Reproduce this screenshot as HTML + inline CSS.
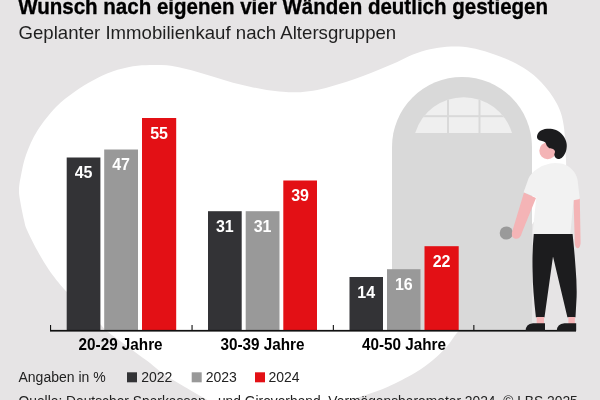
<!DOCTYPE html>
<html lang="de"><head><meta charset="utf-8"><title>Wunsch nach eigenen vier Wänden deutlich gestiegen</title>
<style>
html,body{margin:0;padding:0;background:#e6e4e5;}
body{width:600px;height:400px;overflow:hidden;}
svg{display:block;font-family:"Liberation Sans",sans-serif;}
.t1{font-weight:bold;font-size:22.7px;fill:#000;stroke:#000;stroke-width:0.35px;}
.t2{font-size:19.2px;fill:#1f1f1f;}
.bl{font-weight:bold;font-size:16px;fill:#fff;text-anchor:middle;}
.al{font-weight:bold;font-size:16px;fill:#000;text-anchor:middle;}
.lg{font-size:14px;fill:#222;}
.src{font-size:13.8px;fill:#222;}
</style></head><body>
<svg width="600" height="400" viewBox="0 0 600 400">
<rect width="600" height="400" fill="#e6e4e5"/>
<path d="M19.0,190.0C19.1,186.2 19.4,183.3 20.6,177.5C21.8,171.7 23.2,162.8 26.0,155.0C28.8,147.2 32.5,138.6 37.5,130.6C42.5,122.6 49.8,113.5 56.0,107.0C62.2,100.5 68.7,96.0 75.0,91.5C81.3,87.0 87.5,83.3 93.8,80.0C100.0,76.7 106.0,73.8 112.5,71.5C119.0,69.2 126.8,67.4 133.0,66.3C139.2,65.2 144.4,65.2 150.0,65.0C155.6,64.8 161.2,64.8 166.7,65.3C172.2,65.8 177.4,67.1 183.0,68.3C188.6,69.5 194.4,71.1 200.0,72.7C205.6,74.3 211.2,76.0 216.7,77.7C222.2,79.4 227.4,81.2 233.0,82.7C238.6,84.2 244.4,85.5 250.0,86.7C255.6,87.9 261.2,89.2 266.7,90.0C272.2,90.8 278.0,91.3 283.0,91.7C288.0,92.1 291.7,92.5 296.7,92.3C301.7,92.1 307.4,91.6 313.0,90.7C318.6,89.8 324.4,88.2 330.0,86.7C335.6,85.2 341.2,83.5 346.7,81.7C352.2,79.9 357.4,78.1 363.0,76.0C368.6,73.9 374.4,71.6 380.0,69.3C385.6,67.0 391.2,64.8 396.7,62.3C402.2,59.8 407.4,56.7 413.0,54.5C418.6,52.3 424.4,50.6 430.0,49.3C435.6,48.0 441.2,47.2 446.7,46.8C452.2,46.4 457.4,46.3 463.0,46.8C468.6,47.3 473.8,48.4 480.0,50.0C486.2,51.6 494.0,54.2 500.0,56.5C506.0,58.8 510.8,60.8 516.0,63.5C521.2,66.2 526.8,69.9 531.0,73.0C535.2,76.1 537.9,78.8 541.0,82.0C544.1,85.2 546.9,88.5 549.5,92.0C552.1,95.5 554.5,99.2 556.5,103.0C558.5,106.8 560.2,110.5 561.5,115.0C562.8,119.5 563.7,124.5 564.3,130.0C564.9,135.5 565.1,141.0 565.3,148.0C565.5,155.0 567.0,164.2 565.5,172.0C564.0,179.8 560.2,187.8 556.0,195.0C551.8,202.2 544.5,208.3 540.0,215.0C535.5,221.7 531.2,220.8 529.0,235.0C526.8,249.2 528.5,284.7 527.0,300.0C525.5,315.3 529.5,322.2 520.0,327.0C510.5,331.8 480.2,328.3 470.0,329.0C459.8,329.7 462.9,328.1 459.0,331.0C455.1,333.9 451.0,341.9 446.7,346.7C442.4,351.5 438.3,355.6 433.0,360.0C427.7,364.4 422.2,368.6 414.7,373.0C407.2,377.4 396.0,383.1 388.0,386.7C380.0,390.3 373.0,392.5 366.7,394.7C360.4,396.9 354.4,398.4 350.0,400.0C345.6,401.6 362.5,403.3 340.0,404.0C317.5,404.7 237.1,404.7 215.0,404.0C192.9,403.3 211.7,402.3 207.5,400.0C203.3,397.7 197.1,394.2 190.0,390.0C182.9,385.8 171.7,379.5 165.0,375.0C158.3,370.5 154.3,366.3 150.0,363.0C145.7,359.7 143.5,358.3 139.0,355.0C134.5,351.7 128.2,346.8 123.0,343.0C117.8,339.2 111.8,335.2 108.0,332.0C104.2,328.8 103.8,328.0 100.0,324.0C96.2,320.0 89.2,312.2 85.0,308.0C80.8,303.8 78.5,301.7 75.0,298.5C71.5,295.3 68.3,293.8 64.0,289.0C59.7,284.2 53.5,276.5 49.0,270.0C44.5,263.5 40.7,256.7 37.0,250.0C33.3,243.3 29.2,235.0 27.0,230.0C24.8,225.0 25.2,225.0 24.0,220.0C22.8,215.0 20.8,205.0 20.0,200.0C19.2,195.0 18.9,193.8 19.0,190.0Z" fill="#fff"/>
<path d="M392,330.9 V147 A70,70 0 0 1 532,147 V330.9Z" fill="#d9d9d9"/>
<clipPath id="wc"><path d="M415.2,133 A50.6,50.6 0 0 1 512,133Z"/></clipPath>
<g clip-path="url(#wc)"><rect x="410" y="90" width="110" height="45" fill="#efefef"/><rect x="447" y="90" width="2" height="50" fill="#d9d9d9"/><rect x="478.5" y="90" width="2" height="50" fill="#d9d9d9"/><rect x="400" y="115.2" width="130" height="2" fill="#d9d9d9"/></g>
<rect x="66.7" y="157.5" width="33.7" height="172.9" fill="#333336"/>
<text x="83.6" y="178.0" class="bl">45</text>
<rect x="104.2" y="149.5" width="33.8" height="180.9" fill="#999999"/>
<text x="121.1" y="170.0" class="bl">47</text>
<rect x="142" y="118" width="34.2" height="212.4" fill="#e31015"/>
<text x="159.1" y="138.5" class="bl">55</text>
<rect x="208" y="211.2" width="33.7" height="119.2" fill="#333336"/>
<text x="224.8" y="231.7" class="bl">31</text>
<rect x="245.7" y="211.2" width="33.8" height="119.2" fill="#999999"/>
<text x="262.6" y="231.7" class="bl">31</text>
<rect x="283.3" y="180.5" width="33.7" height="149.9" fill="#e31015"/>
<text x="300.1" y="201.0" class="bl">39</text>
<rect x="349.5" y="277" width="33.5" height="53.4" fill="#333336"/>
<text x="366.2" y="297.5" class="bl">14</text>
<rect x="387" y="269.2" width="33.5" height="61.2" fill="#999999"/>
<text x="403.8" y="289.7" class="bl">16</text>
<rect x="424.5" y="246.2" width="34.2" height="84.2" fill="#e31015"/>
<text x="441.6" y="266.7" class="bl">22</text>
<rect x="50" y="329.9" width="526" height="1.7" fill="#111"/>
<rect x="50.0" y="325" width="1.1" height="6" fill="#111"/>
<rect x="191.5" y="325" width="1.1" height="6" fill="#111"/>
<rect x="332.8" y="325" width="1.1" height="6" fill="#111"/>
<rect x="473.3" y="325" width="1.1" height="6" fill="#111"/>
<circle cx="506.3" cy="233" r="6.6" fill="#9a9a9a"/>
<path d="M524,192.5 L536,198 L522,232.5 Q520.5,239.5 515,238.8 Q510,237 512.8,229.5 Z" fill="#f4b4b6"/>
<path d="M573.5,198 L579.8,198 L580.6,243 Q580,248.5 577.5,248.3 Q575,247.5 574.8,243 Z" fill="#f4b4b6"/>
<path d="M550,163.5 Q543,165 537.5,168.8 Q531,173 528.5,178.5 L523.6,192.3 L536.3,197.6 L532.5,234 L570.3,234 L573.6,200.2 L579.8,199 L577.6,180 Q576.2,173.5 572.5,170 Q568,165.2 562.5,163.8 Q556,162.5 550,163.5Z" fill="#f2f2f2"/>
<circle cx="547.7" cy="150.8" r="8.4" fill="#f4b4b6"/>
<path d="M537.0,136.5C537.2,135.1 537.8,132.8 539.5,131.5C541.2,130.2 544.2,129.1 547.0,128.8C549.8,128.6 553.3,128.9 556.0,130.0C558.7,131.1 561.2,133.3 563.0,135.5C564.8,137.7 566.0,140.6 566.5,143.0C567.0,145.4 566.8,147.8 566.3,150.0C565.8,152.2 564.6,154.5 563.5,156.0C562.4,157.5 560.8,158.7 559.5,159.0C558.2,159.3 556.9,158.7 556.0,158.0C555.1,157.3 554.5,156.1 554.3,155.0C554.1,153.9 555.2,152.5 555.0,151.5C554.8,150.5 553.9,149.5 553.0,149.0C552.1,148.5 550.5,148.8 549.5,148.3C548.5,147.8 547.7,147.0 547.0,146.0C546.3,145.0 546.1,143.3 545.3,142.5C544.5,141.7 543.1,141.4 542.0,141.0C540.9,140.6 539.3,140.6 538.5,139.8C537.7,139.1 536.8,137.9 537.0,136.5Z" fill="#1c1c1e"/>
<path d="M533.8,234 L572.6,234 Q574.5,252 575.6,268 Q577,285 576.6,297 L575.5,317.3 L567.4,317.3 L553,256.5 L544.5,317.3 L535.9,317.3 Q532.8,290 532.6,272 Q532,252 533.8,234Z" fill="#1c1c1e"/>
<rect x="536.7" y="317" width="7.3" height="7" fill="#f4b4b6"/><rect x="568.4" y="317" width="6.4" height="7" fill="#f4b4b6"/>
<path d="M525.6,330.8 Q525.6,324.2 533,323.3 L545,323.3 L545,330.8Z" fill="#1c1c1e"/>
<path d="M556.8,330.8 Q556.8,324.2 564.5,323.3 L576.2,323.3 L576.2,330.8Z" fill="#1c1c1e"/>
<text transform="translate(18.2,14.3) scale(0.905,1)" class="t1">Wunsch nach eigenen vier Wänden deutlich gestiegen</text>
<text transform="translate(18.5,38.5) scale(0.97,1)" class="t2">Geplanter Immobilienkauf nach Altersgruppen</text>
<text transform="translate(120.6,349.5) scale(0.955,1)" class="al">20-29 Jahre</text>
<text transform="translate(262.5,349.5) scale(0.955,1)" class="al">30-39 Jahre</text>
<text transform="translate(404,349.5) scale(0.955,1)" class="al">40-50 Jahre</text>
<text x="18.5" y="381.8" class="lg">Angaben in %</text>
<rect x="127" y="372.3" width="10" height="10" fill="#333336"/>
<text x="141.2" y="381.8" class="lg">2022</text>
<rect x="191.7" y="372.3" width="10" height="10" fill="#999999"/>
<text x="205.7" y="381.8" class="lg">2023</text>
<rect x="255" y="372.3" width="10" height="10" fill="#e31015"/>
<text x="268.5" y="381.8" class="lg">2024</text>
<text x="18.5" y="405.8" class="src">Quelle: Deutscher Sparkassen - und Giroverband, Vermögensbarometer 2024, © LBS 2025</text>
</svg>
</body></html>
